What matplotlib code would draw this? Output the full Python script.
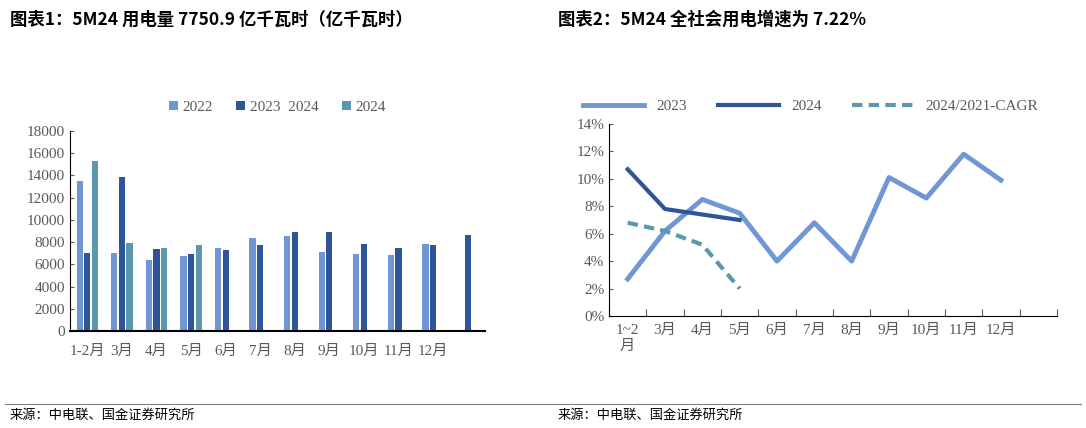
import numpy as np
import matplotlib
matplotlib.use("Agg")
import matplotlib.pyplot as plt
from matplotlib.lines import Line2D

cats_left = ["1-2月", "3月", "4月", "5月", "6月", "7月", "8月", "9月", "10月", "11月", "12月", ""]
v2022 = [13500, 7000, 6400, 6750, 7450, 8350, 8550, 7150, 6900, 6850, 7800, np.nan]
v2023 = [7000, 13850, 7400, 6950, 7250, 7750, 8900, 8900, 7850, 7450, 7700, 8600]
v2024 = [15300, 7950, 7450, 7750]

cats_right = ["1~2\n月", "3月", "4月", "5月", "6月", "7月", "8月", "9月", "10月", "11月", "12月"]
g2023 = [2.7, 6.2, 8.5, 7.5, 4.0, 6.8, 4.0, 10.1, 8.6, 11.8, 9.9]
g2024 = [10.7, 7.8, 7.4, 7.0]
cagr = [6.8, 6.2, 5.2, 2.0]

C1, C2, C3 = "#7096D4", "#2E5597", "#5B97AD"
serif = "Liberation Serif"
cjk = "Noto Sans CJK SC"
gray = "#595959"

fig = plt.figure(figsize=(10.86, 4.28), dpi=100)

def style(ax):
    for s in ["top", "right"]:
        ax.spines[s].set_visible(False)
    for s in ["left", "bottom"]:
        ax.spines[s].set_color("black")
    ax.tick_params(colors=gray, labelsize=11)
    for t in ax.get_yticklabels():
        t.set_fontfamily(serif)
    for t in ax.get_xticklabels():
        t.set_fontfamily([serif, cjk])

# left chart
ax = fig.add_axes([70/1086, 1-331/428, 415/1086, 200/428])
x = np.arange(len(cats_left))
w = 0.18
ax.bar(x - 0.22, v2022, w, color=C1, label="2022")
ax.bar(x, v2023, w, color=C2, label="2023  2024")
ax.bar(np.arange(len(v2024)) + 0.22, v2024, w, color=C3, label="2024")
ax.set_ylim(0, 18000)
ax.set_yticks(range(0, 18001, 2000))
ax.set_xlim(-0.5, len(cats_left) - 0.5)
ax.set_xticks(x)
ax.set_xticklabels(cats_left)
ax.tick_params(axis="x", length=0, pad=10)
ax.tick_params(axis="y", direction="in", length=3)
style(ax)
ax.spines["bottom"].set_linewidth(1.5)
leg = ax.legend(loc="upper center", bbox_to_anchor=(0.5, 1.22), ncol=3, frameon=False,
                prop={"family": serif, "size": 11}, handlelength=0.6, handleheight=0.6,
                columnspacing=1.5, handletextpad=0.3)
for t in leg.get_texts():
    t.set_color(gray)

# right chart
ax2 = fig.add_axes([609/1086, 1-316/428, 448/1086, 192/428])
xr = np.arange(len(cats_right)) + 0.5
ax2.plot(xr, g2023, color=C1, lw=3.5, label="2023")
ax2.plot(xr[:len(g2024)], g2024, color=C2, lw=3, label="2024")
ax2.plot(xr[:len(cagr)], cagr, color=C3, lw=3, ls=(0, (2.5, 1.5)), label="2024/2021-CAGR")
ax2.set_xlim(0, 12)
ax2.set_ylim(0, 14)
ax2.set_yticks(range(0, 15, 2))
ax2.set_yticklabels([f"{v}%" for v in range(0, 15, 2)])
ax2.set_xticks(range(0, 13))
ax2.set_xticklabels([])
ax2.set_xticks(xr, cats_right, minor=True)
ax2.tick_params(axis="x", which="major", direction="in", length=5)
ax2.tick_params(axis="x", which="minor", length=0, pad=6)
ax2.tick_params(axis="y", direction="in", length=3)
style(ax2)
for t in ax2.get_xticklabels(minor=True):
    t.set_fontfamily([serif, cjk]); t.set_color(gray); t.set_fontsize(11)
leg2 = ax2.legend(loc="upper center", bbox_to_anchor=(0.45, 1.2), ncol=3, frameon=False,
                  prop={"family": serif, "size": 11}, handlelength=4, columnspacing=2)
for t in leg2.get_texts():
    t.set_color(gray)

fig.text(10/1086, 1-20/428, "图表1：5M24 用电量 7750.9 亿千瓦时（亿千瓦时）", fontfamily=cjk,
         fontweight="bold", fontstyle="italic", fontsize=12.5, va="center")
fig.text(558/1086, 1-20/428, "图表2：5M24 全社会用电增速为 7.22%", fontfamily=cjk,
         fontweight="bold", fontstyle="italic", fontsize=12.5, va="center")
fig.add_artist(Line2D([5/1086, 1081/1086], [1-404/428]*2, color="#808080", lw=0.8))
fig.text(10/1086, 1-415/428, "来源：中电联、国金证券研究所", fontfamily=cjk, fontsize=9.5, va="center")
fig.text(558/1086, 1-415/428, "来源：中电联、国金证券研究所", fontfamily=cjk, fontsize=9.5, va="center")

fig.savefig("out.png", dpi=100)
